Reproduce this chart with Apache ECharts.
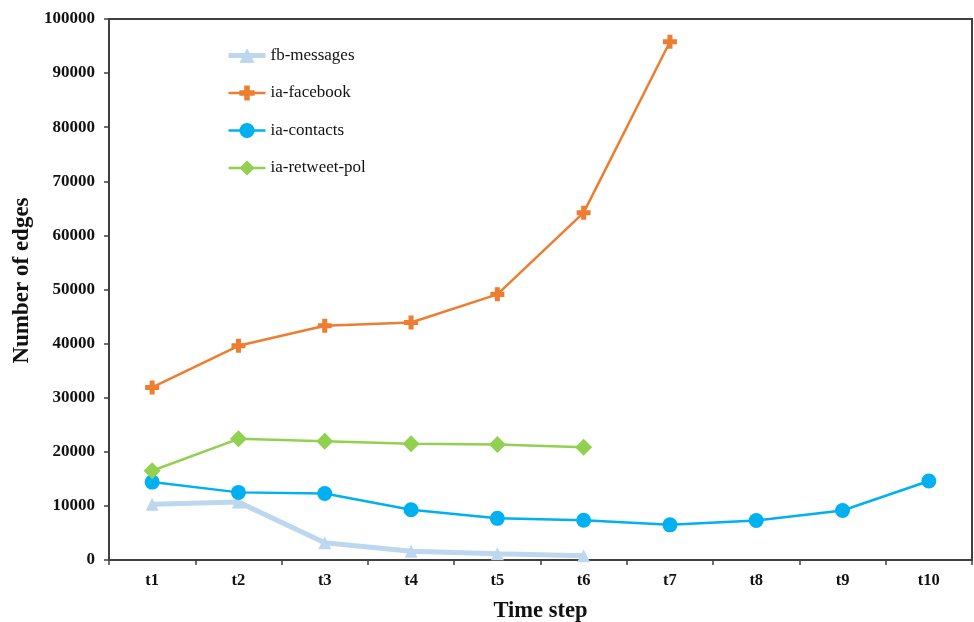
<!DOCTYPE html>
<html>
<head>
<meta charset="utf-8">
<script src="https://cdn.jsdelivr.net/npm/echarts@6/dist/echarts.min.js"></script>
<style>
  html, body { margin: 0; padding: 0; background: #fff; }
  #chart { width: 974px; height: 622px; }
</style>
</head>
<body>
<div id="chart"></div>
<script>
// Edge counts per time step for each dynamic network
const timeSteps = ['t1', 't2', 't3', 't4', 't5', 't6', 't7', 't8', 't9', 't10'];
const fbMessages = [10300, 10700, 3200, 1600, 1150, 800, null, null, null, null];
const iaFacebook = [31900, 39600, 43300, 43900, 49100, 64200, 95800, null, null, null];
const iaContacts = [14400, 12500, 12300, 9300, 7700, 7350, 6500, 7300, 9150, 14600];
const iaRetweetPol = [16500, 22400, 21950, 21500, 21350, 20850, null, null, null, null];

const serif = '"Liberation Serif", "Times New Roman", serif';
const axisColor = '#404040';

// Plus-shaped marker
const plusPath = 'path://M3.2,0H6.8V3.2H10V6.8H6.8V10H3.2V6.8H0V3.2H3.2Z';

const colors = {
  fb: '#BDD7EE',
  facebook: '#ED7D31',
  contacts: '#00B0F0',
  retweet: '#92D050'
};

const chart = echarts.init(document.getElementById('chart'));
chart.setOption({
  animation: false,
  backgroundColor: '#fff',
  grid: {
    left: 109, right: 2, top: 19, bottom: 62,
    outerBoundsMode: 'none', containLabel: false,
    show: true, borderColor: axisColor, borderWidth: 2
  },
  legend: {
    orient: 'vertical',
    left: 221,
    top: 42,
    itemWidth: 37,
    itemHeight: 19,
    itemGap: 20.5,
    textStyle: { fontFamily: serif, fontSize: 17, color: '#111' },
    data: [
      { name: 'fb-messages', lineStyle: { width: 5, color: colors.fb } },
      { name: 'ia-facebook', lineStyle: { width: 2.5, color: colors.facebook } },
      { name: 'ia-contacts', lineStyle: { width: 2.5, color: colors.contacts } },
      { name: 'ia-retweet-pol', lineStyle: { width: 2.5, color: colors.retweet } }
    ]
  },
  xAxis: {
    type: 'category',
    data: timeSteps,
    boundaryGap: true,
    name: 'Time step',
    nameLocation: 'middle',
    nameGap: 40,
    nameTextStyle: { fontFamily: serif, fontSize: 22.5, fontWeight: 'bold', color: '#111' },
    axisLine: { lineStyle: { color: axisColor, width: 2 } },
    axisTick: { show: true, length: 5, lineStyle: { color: axisColor, width: 1.5 } },
    axisLabel: { fontFamily: serif, fontSize: 16.5, fontWeight: 'bold', color: '#111', margin: 12 }
  },
  yAxis: {
    type: 'value',
    min: 0,
    max: 100000,
    interval: 10000,
    name: 'Number of edges',
    nameLocation: 'middle',
    nameGap: 73,
    nameTextStyle: { fontFamily: serif, fontSize: 23, fontWeight: 'bold', color: '#111', padding: [0, 0, 0, 18] },
    splitLine: { show: false },
    axisLine: { show: true, lineStyle: { color: axisColor, width: 2 } },
    axisTick: { show: true, length: 5, lineStyle: { color: axisColor, width: 1.5 } },
    axisLabel: {
      fontFamily: serif, fontSize: 17, fontWeight: 'bold', color: '#111', margin: 14,
      formatter: (v) => String(v)
    }
  },
  series: [
    {
      name: 'fb-messages', type: 'line', data: fbMessages,
      symbol: 'triangle', symbolSize: 13,
      itemStyle: { color: colors.fb },
      lineStyle: { color: colors.fb, width: 5 }
    },
    {
      name: 'ia-facebook', type: 'line', data: iaFacebook,
      symbol: plusPath, symbolSize: 14,
      itemStyle: { color: colors.facebook },
      lineStyle: { color: colors.facebook, width: 2.5 }
    },
    {
      name: 'ia-contacts', type: 'line', data: iaContacts,
      symbol: 'circle', symbolSize: 15,
      itemStyle: { color: colors.contacts },
      lineStyle: { color: colors.contacts, width: 2.5 }
    },
    {
      name: 'ia-retweet-pol', type: 'line', data: iaRetweetPol,
      symbol: 'diamond', symbolSize: 17,
      itemStyle: { color: colors.retweet },
      lineStyle: { color: colors.retweet, width: 2.5 }
    }
  ]
});
</script>
</body>
</html>
